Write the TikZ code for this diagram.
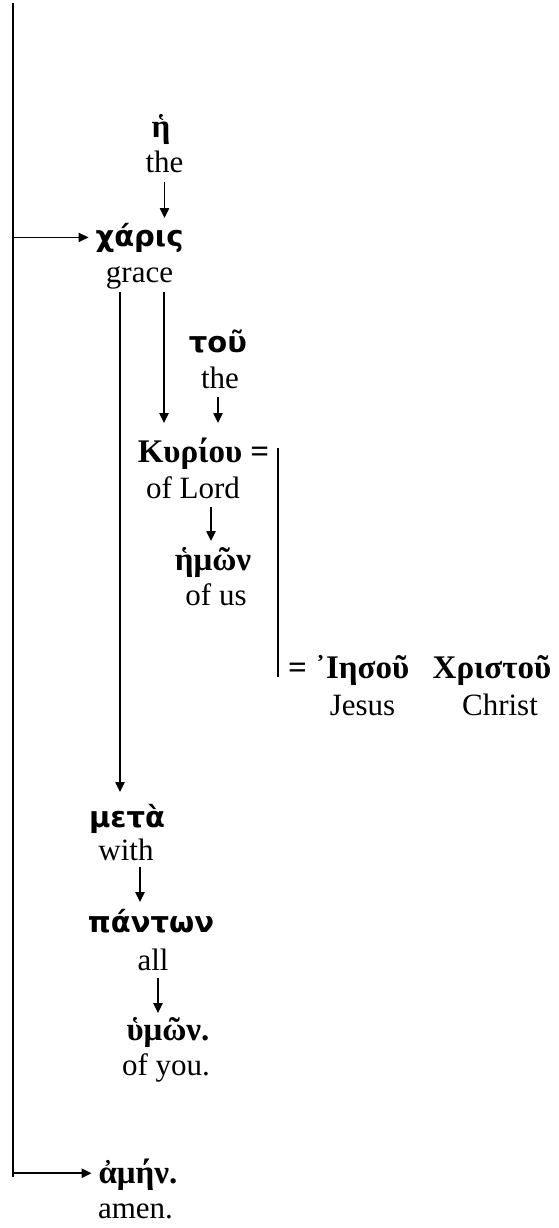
\documentclass[tikz,border=0pt]{standalone}
\usepackage{fontspec}
\setmainfont{Liberation Serif}
\newfontfamily\grsans{DejaVu Sans}
\newfontfamily\grserif{Liberation Serif}
\usetikzlibrary{arrows.meta,calc}
\begin{document}
\begin{tikzpicture}[x=0.5pt,y=-0.5pt,
  every node/.style={inner sep=0pt,outer sep=0pt,anchor=base},
  gs/.style={font=\fontsize{14.5}{16}\selectfont\grsans\bfseries},
  gb/.style={font=\fontsize{16.5}{18}\selectfont\grserif\bfseries},
  en/.style={font=\fontsize{15.5}{18}\selectfont},
  arr/.style={line width=0.9pt,-{Triangle[length=5pt,width=4.6pt]}},
  ln/.style={line width=0.9pt}]
\useasboundingbox (0,0) rectangle (558,1228);
% words (x = centre, y = baseline)
\node[gb] (he) at (161,137) {ἡ};
\node[en] (the1) at (164.5,172) {the};
\node[gs] (charis) at (139.5,246) {χάρις};
\node[en] (grace) at (139.5,282) {grace};
\node[gs] (tou) at (218,352) {τοῦ};
\node[en] (the2) at (220,388) {the};
\node[gb] (kyriou) at (203.5,462) {Κυρίου =};
\node[en] (lord) at (193,498) {of Lord};
\node[gb] (hemon) at (213,570) {ἡμῶν};
\node[en] (us) at (216,605) {of us};
\node[gb,anchor=base west] (iesou) at (288,678) {= ᾿Ιησοῦ};
\node[gb] (christou) at (492,678) {Χριστοῦ};
\node[en] (jesus) at (362.5,715) {Jesus};
\node[en] (christ) at (500,715) {Christ};
\node[gs] (meta) at (127,827) {μετὰ};
\node[en] (with) at (126,860) {with};
\node[gs] (panton) at (151,932) {πάντων};
\node[en] (all) at (153,970) {all};
\node[gb] (hymon) at (168,1040) {ὑμῶν.};
\node[en] (you) at (166,1075) {of you.};
\node[gb] (amen) at (138,1183) {ἀμήν.};
\node[en] (amenE) at (135.5,1218) {amen.};
% main vertical line
\coordinate (top) at (13,3);
\draw[ln] (top) -- (13,1177);
\draw[arr] (top) |- ($(charis.west)+(-7,0)$);
\draw[arr] (top) |- ($(amen.west)+(-7,-1)$);
% vertical arrows
\coordinate (gl) at (120,0);
\coordinate (gr) at (164,0);
\draw[arr] ($(the1.base)+(0,10)$) -- ($(charis.base -| the1.base)+(0,-28)$);
\draw[arr] ($(grace.base -| gl)+(0,10)$) -- ($(meta.base -| gl)+(0,-35)$);
\draw[arr] ($(grace.base -| gr)+(0,10)$) -- ($(kyriou.base -| gr)+(0,-39)$);
\draw[arr] ($(the2.base)+(-2,9)$) -- ($(kyriou.base -| the2.base)+(-2,-39)$);
\draw[arr] ($(lord.base)+(18,9)$) -- ($(hemon.base -| lord.base)+(18,-29)$);
\draw[arr] ($(with.base)+(14,7)$) -- ($(panton.base -| with.base)+(14,-30)$);
\draw[arr] ($(all.base)+(5,8)$) -- ($(hymon.base -| all.base)+(5,-27)$);
% equals bracket
\coordinate (bar) at (278,0);
\draw[ln] ($(kyriou.base -| bar)+(0,-14)$) -- ($(iesou.base -| bar)+(0,-1)$);
\end{tikzpicture}
\end{document}
